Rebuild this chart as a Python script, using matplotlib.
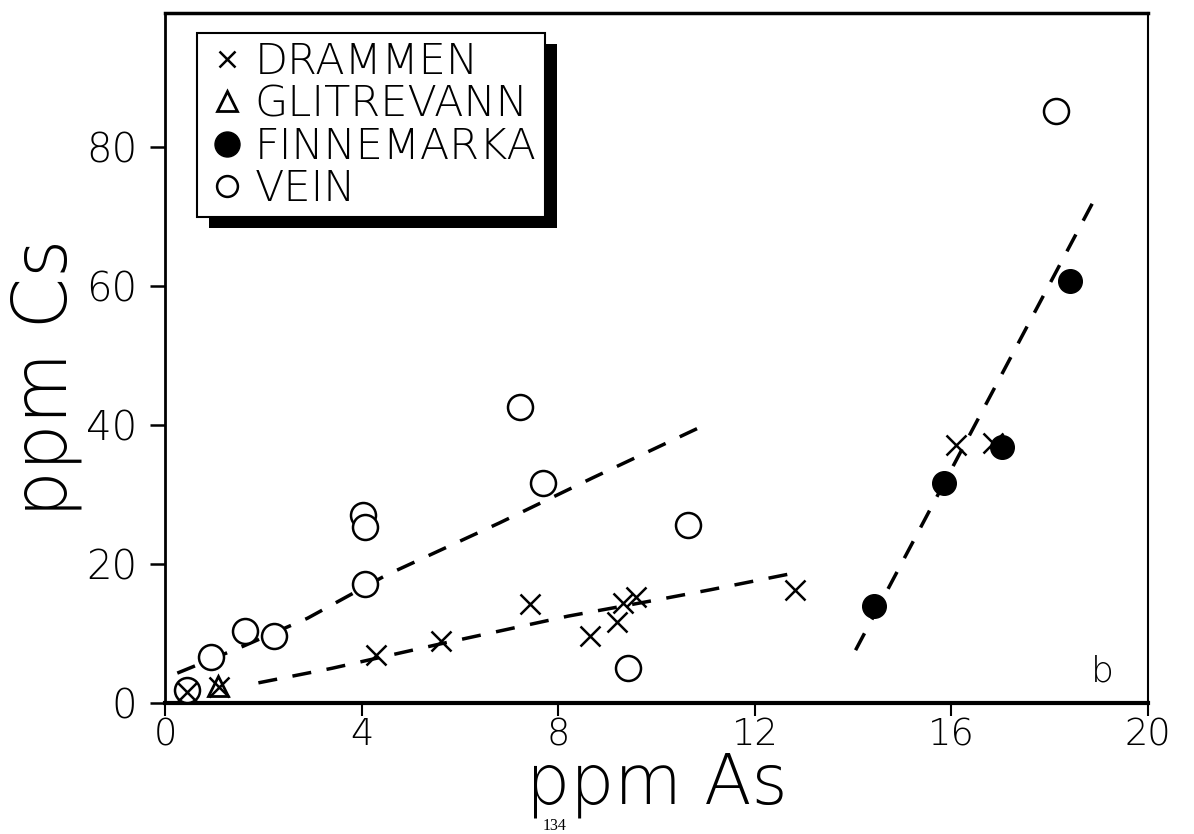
import matplotlib
matplotlib.use("Agg")
import matplotlib.pyplot as plt
from matplotlib.patches import Rectangle
from matplotlib.transforms import IdentityTransform

# ---- data ----
drammen_x = [0.45, 1.10, 4.30, 5.62, 7.43, 8.65, 9.20, 9.32, 9.58, 12.82, 16.09, 16.85]
drammen_y = [1.6, 2.3, 6.9, 8.9, 14.3, 9.6, 11.6, 14.4, 15.3, 16.3, 37.1, 37.4]
glitrevann_x = [1.08]
glitrevann_y = [2.4]
finnemarka_x = [14.43, 15.85, 17.03, 18.41]
finnemarka_y = [14.0, 31.6, 36.8, 60.7]
vein_x = [0.45, 0.93, 1.63, 2.22, 4.07, 4.03, 4.07, 7.22, 7.69, 9.42, 10.64, 18.13]
vein_y = [1.8, 6.6, 10.4, 9.6, 17.1, 27.0, 25.3, 42.6, 31.7, 5.0, 25.6, 85.2]

vein_trend_x = [0.25, 1.6, 2.9, 4.5, 6.8, 8.7, 11.1]
vein_trend_y = [4.3, 8.2, 12.2, 18.4, 25.9, 32.4, 40.4]
drammen_trend_x = [1.9, 3.4, 5.6, 8.2, 9.9, 11.1, 12.8]
drammen_trend_y = [2.9, 5.0, 8.5, 12.5, 14.7, 16.3, 18.7]
finnemarka_trend_x = [14.05, 18.95]
finnemarka_trend_y = [7.6, 73.0]

series_labels = ["DRAMMEN", "GLITREVANN", "FINNEMARKA", "VEIN"]
x_ticks = [0, 4, 8, 12, 16, 20]
y_ticks = [0, 20, 40, 60, 80]
x_label = "ppm As"
y_label = "ppm Cs"
panel_label = "b"
page_number = "134"

# ---- figure ----
plt.rcParams["font.family"] = ["DejaVu Sans"]
plt.rcParams["font.weight"] = "light"
W, H = 1194, 834
fig = plt.figure(figsize=(W / 100, H / 100), dpi=100)
ax = fig.add_axes([165 / W, 1 - 703 / H, (1148 - 165) / W, (703 - 13) / H])
ax.set_facecolor("none")
ax.set_xlim(0, 20)
ax.set_ylim(0, 99.3)

dash = (0, (5.5, 4.5))
for tx, ty in [(vein_trend_x, vein_trend_y), (drammen_trend_x, drammen_trend_y),
               (finnemarka_trend_x, finnemarka_trend_y)]:
    ax.plot(tx, ty, color="black", lw=2.5, linestyle=dash, dash_capstyle="butt", zorder=2)

h_vein, = ax.plot(vein_x, vein_y, linestyle="none", marker="o", ms=18, mfc="white",
                  mec="black", mew=1.8, zorder=3, clip_on=False)
h_dr, = ax.plot(drammen_x, drammen_y, linestyle="none", marker="x", ms=15, mec="black",
                mew=1.8, zorder=4, clip_on=False)
h_gl, = ax.plot(glitrevann_x, glitrevann_y, linestyle="none", marker="^", ms=15, mfc="none",
                mec="black", mew=2.0, zorder=4, clip_on=False)
h_fi, = ax.plot(finnemarka_x, finnemarka_y, linestyle="none", marker="o", ms=17, mfc="black",
                mec="black", zorder=5, clip_on=False)

# ---- axes styling ----
ax.spines["left"].set_linewidth(2.0)
ax.spines["bottom"].set_linewidth(3.0)
ax.spines["top"].set_linewidth(2.5)
ax.spines["right"].set_linewidth(1.5)
ax.set_xticks(x_ticks)
ax.set_xticklabels([str(v) for v in x_ticks])
ax.set_yticks(y_ticks)
ax.set_yticklabels([str(v) for v in y_ticks])
ax.tick_params(axis="x", direction="out", length=9, width=1.5, pad=0.5, labelsize=26.5)
ax.tick_params(axis="y", direction="out", length=11, width=1.8, pad=9, labelsize=29)

ax.text(0.5, -0.146, x_label, transform=ax.transAxes, ha="center", va="baseline",
        fontsize=50)
ax.text(-0.0997, 0.471, y_label, transform=ax.transAxes, ha="center", va="baseline",
        rotation=90, rotation_mode="anchor", fontsize=53)
ax.text(19.08, 4.6, panel_label, ha="center", va="center", fontsize=26)
fig.text(555 / W, 1 - 826.5 / H, page_number, ha="center", va="center",
         family="Liberation Serif", fontsize=11.5, weight="normal")

# ---- legend ----
x0 = (197 - 165) / 983
y1 = (703 - 33) / 690
wbox = (545 - 197) / 983
hbox = (218 - 33) / 690
leg = ax.legend([h_dr, h_gl, h_fi, h_vein], series_labels, loc="upper left",
                bbox_to_anchor=(x0, y1 - hbox, wbox, hbox), mode="expand",
                borderaxespad=0, fontsize=31, labelspacing=0.03, borderpad=0.19,
                handlelength=1.0, handletextpad=0.15, numpoints=1, fancybox=False,
                framealpha=1, edgecolor="black")
leg.get_frame().set_linewidth(1.5)
for hnd, ms in zip(leg.legend_handles, [12, 15, 18, 15]):
    hnd.set_markersize(ms)
leg.set_zorder(10)

fig.canvas.draw()
bb = leg.get_frame().get_window_extent()
shadow = Rectangle((bb.x0 + 12, bb.y0 - 11), bb.width, bb.height, transform=IdentityTransform(),
                   facecolor="black", edgecolor="none", zorder=9.5, clip_on=False)
ax.add_artist(shadow)

fig.savefig("out.png", dpi=100)
